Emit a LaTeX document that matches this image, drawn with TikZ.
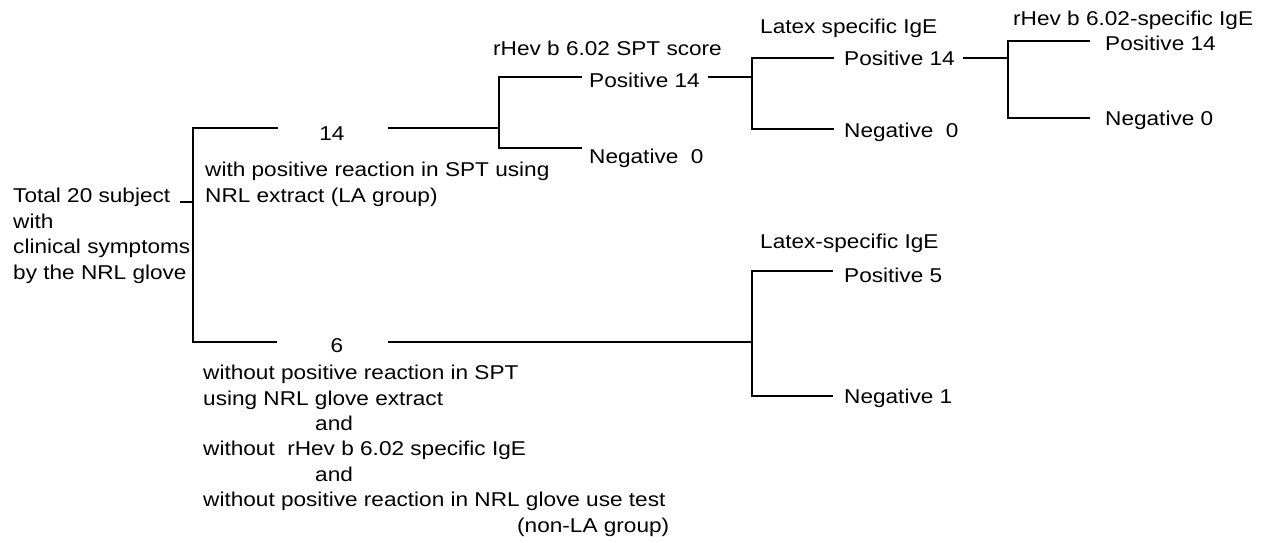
\documentclass[tikz,border=0pt]{standalone}
\usepackage{fontspec}
\setmainfont[FakeStretch=1.13]{Liberation Sans}
\tikzset{
	txt/.style={inner sep=0pt, font=\fontsize{20}{25.4}\selectfont},
	block/.style={txt, align=left, anchor=base west},	% base = last line
	leaf/.style={txt, anchor=base west},
	bracket/.style={line width=1.1pt}
}
\begin{document}
\begin{tikzpicture}[x=1pt,y=-1pt]
	\useasboundingbox (0,0) rectangle (1262,542);
	%\draw [help lines,step=50] (0,0) grid (1262,542);
	% subjects
		\node [block] (total) at (13,279) {Total 20 subject\\with\\clinical symptoms\\by the NRL glove};
		\coordinate (r0) at (180,202);
		\coordinate (j0) at (193,202);
		\draw [bracket] (r0) -- (j0);
	% split into LA / non-LA
		\coordinate (a2) at (278,128);
		\coordinate (b1) at (193,342);
		\coordinate (b2) at (277,342);
		\draw [bracket] (a2) -| (b1) -- (b2);
	% LA group
		\node [txt,anchor=base] (la) at (332,140) {14};
		\node [block] (latext) at (205,202) {with positive reaction in SPT using\\NRL extract (LA group)};
		\coordinate (a3) at (388,128);
		\coordinate (j1) at (499,128);
		\draw [bracket] (a3) -- (j1);
	% rHev b 6.02 SPT
		\node [leaf] (spt) at (493,55) {rHev b 6.02 SPT score};
		\node [leaf] (sptpos) at (589,87) {Positive 14};
		\node [leaf] (sptneg) at (589,163) {Negative~ 0};
		\coordinate (sptpose) at (582,77);
		\coordinate (sptnege) at (582,148);
		\draw [bracket] (sptpose) -| (j1) |- (sptnege);
	% latex specific IgE
		\coordinate (s1) at (708,77);
		\coordinate (j2) at (752,77);
		\draw [bracket] (s1) -- (j2);
		\node [leaf] (ige) at (760,33) {Latex specific IgE};
		\node [leaf] (igepos) at (844,65) {Positive 14};
		\node [leaf] (igeneg) at (844,137) {Negative~ 0};
		\coordinate (igepose) at (834,58);
		\coordinate (igenege) at (834,129);
		\draw [bracket] (igepose) -| (j2) |- (igenege);
	% rHev b 6.02 specific IgE
		\coordinate (s2) at (963,58);
		\coordinate (j3) at (1008,58);
		\draw [bracket] (s2) -- (j3);
		\node [leaf] (rhev) at (1013,25) {rHev b 6.02-specific IgE};
		\node [leaf] (rhevpos) at (1105,50) {Positive 14};
		\node [leaf] (rhevneg) at (1105,125) {Negative 0};
		\coordinate (rhevpose) at (1090,41);
		\coordinate (rhevnege) at (1090,118);
		\draw [bracket] (rhevpose) -| (j3) |- (rhevnege);
	% non-LA group
		\node [txt,anchor=base] (nonla) at (337,352) {6};
		\node [block] (nonlatext) at (203,532) {without positive reaction in SPT\\using NRL glove extract\\\hspace*{112pt}and\\without~ rHev b 6.02 specific IgE\\\hspace*{112pt}and\\without positive reaction in NRL glove use test\\\hspace*{314pt}(non-LA group)};
		\coordinate (b3) at (388,342);
		\coordinate (j4) at (752,342);
		\draw [bracket] (b3) -- (j4);
	% latex-specific IgE (non-LA)
		\node [leaf] (ige2) at (760,248) {Latex-specific IgE};
		\node [leaf] (ige2pos) at (844,282) {Positive 5};
		\node [leaf] (ige2neg) at (844,403) {Negative 1};
		\coordinate (ige2pose) at (833,271);
		\coordinate (ige2nege) at (833,396);
		\draw [bracket] (ige2pose) -| (j4) |- (ige2nege);
\end{tikzpicture}
\end{document}
